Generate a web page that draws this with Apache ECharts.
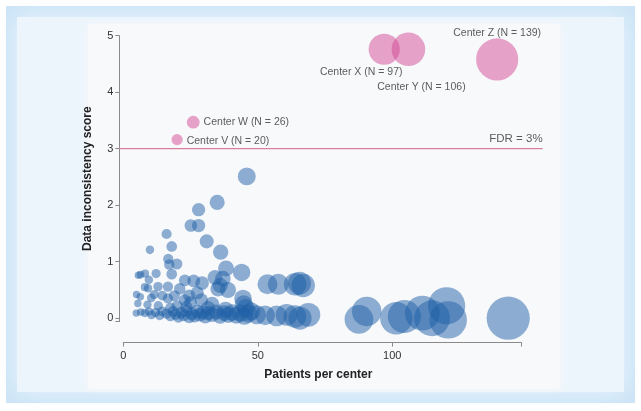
<!DOCTYPE html>
<html><head><meta charset="utf-8">
<script src="https://cdn.jsdelivr.net/npm/echarts@6/dist/echarts.min.js"></script>
<style>html,body{margin:0;padding:0;background:#fff}#c{width:641px;height:411px}</style>
</head><body><div id="c"></div>
<script>
// ---- data ----
const blueN = [
  45.9, 34.9, 28.0, 25.1, 28.0, 31.0, 36.2, 16.1, 18.0, 9.9, 16.7, 17.1, 19.9, 18.0, 38.2, 44.0,
  5.6, 6.4, 8.1, 12.2, 9.5,
  22.9, 26.2, 29.3, 34.1, 37.0, 35.2, 38.9, 36.0, 21.0,
  53.6, 57.6, 63.9, 66.9, 65.5,
  4.9, 5.4, 6.3, 8.0, 9.2, 10.4, 12.9, 16.6, 11.5, 14.5, 16.6, 19.0, 22.8, 24.5, 29.0, 27.5, 33.0,
  44.5, 44.8, 45.5, 9.0, 13.0, 20.0, 23.5, 25.0, 31.5, 38.0, 17.5,
  4.8, 6.5, 8.0, 9.5, 10.5, 12.0, 13.5, 14.5, 16.0, 17.5, 18.5, 19.5, 20.5, 21.5, 22.5, 23.5,
  24.5, 25.5, 26.5, 27.5, 28.5, 29.5, 30.5, 31.5, 33.0, 34.5, 36.0, 37.5, 39.0, 40.5, 42.0,
  43.5, 45.0, 46.5, 47.5,
  49.6, 52.7, 57.0, 60.7, 63.8, 65.7, 68.8,
  87.6, 90.5, 101.5, 104.5, 111.2, 114.8, 120.2, 120.8, 143.1
];
const blueScore = [
  2.51, 2.05, 1.92, 1.64, 1.64, 1.36, 1.17, 1.49, 1.27, 1.21, 1.05, 0.95, 0.96, 0.78, 0.88, 0.81,
  0.76, 0.77, 0.79, 0.79, 0.68,
  0.67, 0.66, 0.62, 0.72, 0.70, 0.52, 0.50, 0.58, 0.52,
  0.60, 0.60, 0.60, 0.58, 0.62,
  0.42, 0.26, 0.38, 0.55, 0.53, 0.36, 0.56, 0.56, 0.42, 0.40, 0.35, 0.40, 0.32, 0.40, 0.32, 0.45, 0.25,
  0.35, 0.25, 0.18, 0.24, 0.22, 0.22, 0.20, 0.28, 0.18, 0.15, 0.18,
  0.09, 0.11, 0.09, 0.12, 0.06, 0.10, 0.05, 0.12, 0.08, 0.04, 0.12, 0.07, 0.02, 0.10, 0.05, 0.13,
  0.02, 0.08, 0.04, 0.12, 0.06, 0.10, 0.03, 0.09, 0.06, 0.11, 0.04, 0.09, 0.06, 0.10, 0.05,
  0.09, 0.04, 0.08, 0.12,
  0.06, 0.05, 0.04, 0.06, 0.03, 0.00, 0.06,
  -0.02, 0.12, 0.00, 0.03, 0.09, 0.00, 0.22, -0.03, 0.00
];
const flaggedNames = ['Center V', 'Center W', 'Center X', 'Center Y', 'Center Z'];
const flaggedN = [20, 26, 97, 106, 139];
const flaggedScore = [3.16, 3.47, 4.76, 4.76, 4.58];
const fdrThreshold = 3;
const fdrText = 'FDR = 3%';
const xTickLabels = [0, 50, 100];
const yTickLabels = [0, 1, 2, 3, 4, 5];
const xTitle = 'Patients per center';
const yTitle = 'Data inconsistency score';

// ---- layout / style ----
const X_MIN = 0, X_MAX = 148, Y_MIN = -0.06, Y_MAX = 5;
const FDR_X0 = -1.5, FDR_X1 = 155.9;
const sizeOf = n => 6 + 0.26 * n;
const flaggedLabelLayout = [
  { position: 'right', distance: 4, offset: [0, 1.5] },
  { position: 'right', distance: 4, offset: [0, -0.5] },
  { position: 'bottom', distance: 2, offset: [-23, 0] },
  { position: 'bottom', distance: 2, offset: [13, 14] },
  { position: 'top', distance: 0, offset: [0, 0] }
];
const FONT = '"Liberation Sans", Arial, Helvetica, sans-serif';

const chart = echarts.init(document.getElementById('c'), null, { renderer: 'canvas' });

const blueData = blueN.map((n, i) => [n, blueScore[i]]);
const flaggedData = flaggedN.map((n, i) => ({
  value: [n, flaggedScore[i]],
  name: flaggedNames[i],
  label: Object.assign({ show: true }, flaggedLabelLayout[i])
}));

chart.setOption({
  animation: false,
  backgroundColor: '#ffffff',
  graphic: [
    { type: 'rect', z: -100, silent: true, shape: { x: 6, y: 6, width: 629, height: 397 }, style: { fill: '#cbe4f7' } },
    { type: 'rect', z: -99, silent: true, shape: { x: 17, y: 17, width: 607, height: 375 },
      style: { fill: '#edf5fc', shadowBlur: 24, shadowColor: '#edf5fc' } },
    { type: 'rect', z: -98, silent: true, shape: { x: 88, y: 24, width: 472, height: 365 },
      style: { fill: '#f7f9fb', shadowBlur: 6, shadowColor: '#f7f9fb' } }
  ],
  grid: { left: 123.3, right: 641 - 521.4, top: 35.7, bottom: 411 - 321.6, containLabel: false },
  xAxis: {
    type: 'value', min: X_MIN, max: X_MAX, offset: 21,
    name: xTitle, nameLocation: 'middle', nameGap: 26,
    nameTextStyle: { fontFamily: FONT, fontWeight: 'bold', fontSize: 12, color: '#222', padding: [0, 8, 0, 0] },
    axisLine: { show: true, onZero: false, lineStyle: { color: '#8a8a8a', width: 1 } },
    axisTick: { show: true, length: 4, lineStyle: { color: '#8a8a8a' }, customValues: xTickLabels.concat([X_MAX]) },
    axisLabel: { fontFamily: FONT, fontSize: 11, color: '#333', margin: 8, customValues: xTickLabels },
    splitLine: { show: false }
  },
  yAxis: {
    type: 'value', min: Y_MIN, max: Y_MAX, offset: 4,
    name: yTitle, nameLocation: 'middle', nameGap: 26,
    nameTextStyle: { fontFamily: FONT, fontWeight: 'bold', fontSize: 12, color: '#222' },
    axisLine: { show: true, onZero: false, lineStyle: { color: '#8a8a8a', width: 1 } },
    axisTick: { show: true, length: 4, lineStyle: { color: '#8a8a8a' }, customValues: [Y_MIN].concat(yTickLabels) },
    axisLabel: { fontFamily: FONT, fontSize: 11, color: '#333', margin: 6, customValues: yTickLabels },
    splitLine: { show: false }
  },
  series: [
    {
      type: 'custom', name: 'fdr', silent: true, z: 1, clip: false,
      data: [[fdrThreshold]],
      renderItem: (params, api) => {
        const a = api.coord([FDR_X0, api.value(0)]);
        const b = api.coord([FDR_X1, api.value(0)]);
        return { type: 'line', shape: { x1: a[0], y1: a[1], x2: b[0], y2: b[1] },
          style: { stroke: '#d9809e', lineWidth: 1.2 } };
      }
    },
    {
      type: 'scatter', name: 'fdrLabel', clip: false, silent: true,
      data: [[FDR_X1, fdrThreshold]], symbolSize: 1,
      itemStyle: { color: 'transparent' },
      label: { show: true, position: 'top', align: 'right', distance: 3, formatter: fdrText,
        fontFamily: FONT, fontSize: 11.5, color: '#333' }
    },
    {
      type: 'scatter', name: 'centers', clip: false, z: 3,
      data: blueData,
      symbolSize: v => sizeOf(v[0]),
      itemStyle: { color: 'rgba(30,95,165,0.62)' }
    },
    {
      type: 'scatter', name: 'flagged', clip: false, z: 4,
      data: flaggedData,
      symbolSize: v => sizeOf(v[0]),
      itemStyle: { color: 'rgba(210,70,145,0.62)' },
      label: {
        show: true, fontFamily: FONT, fontSize: 10.5, color: '#333',
        formatter: p => p.name + ' (N = ' + p.value[0] + ')'
      }
    }
  ]
});
</script>
</body></html>
